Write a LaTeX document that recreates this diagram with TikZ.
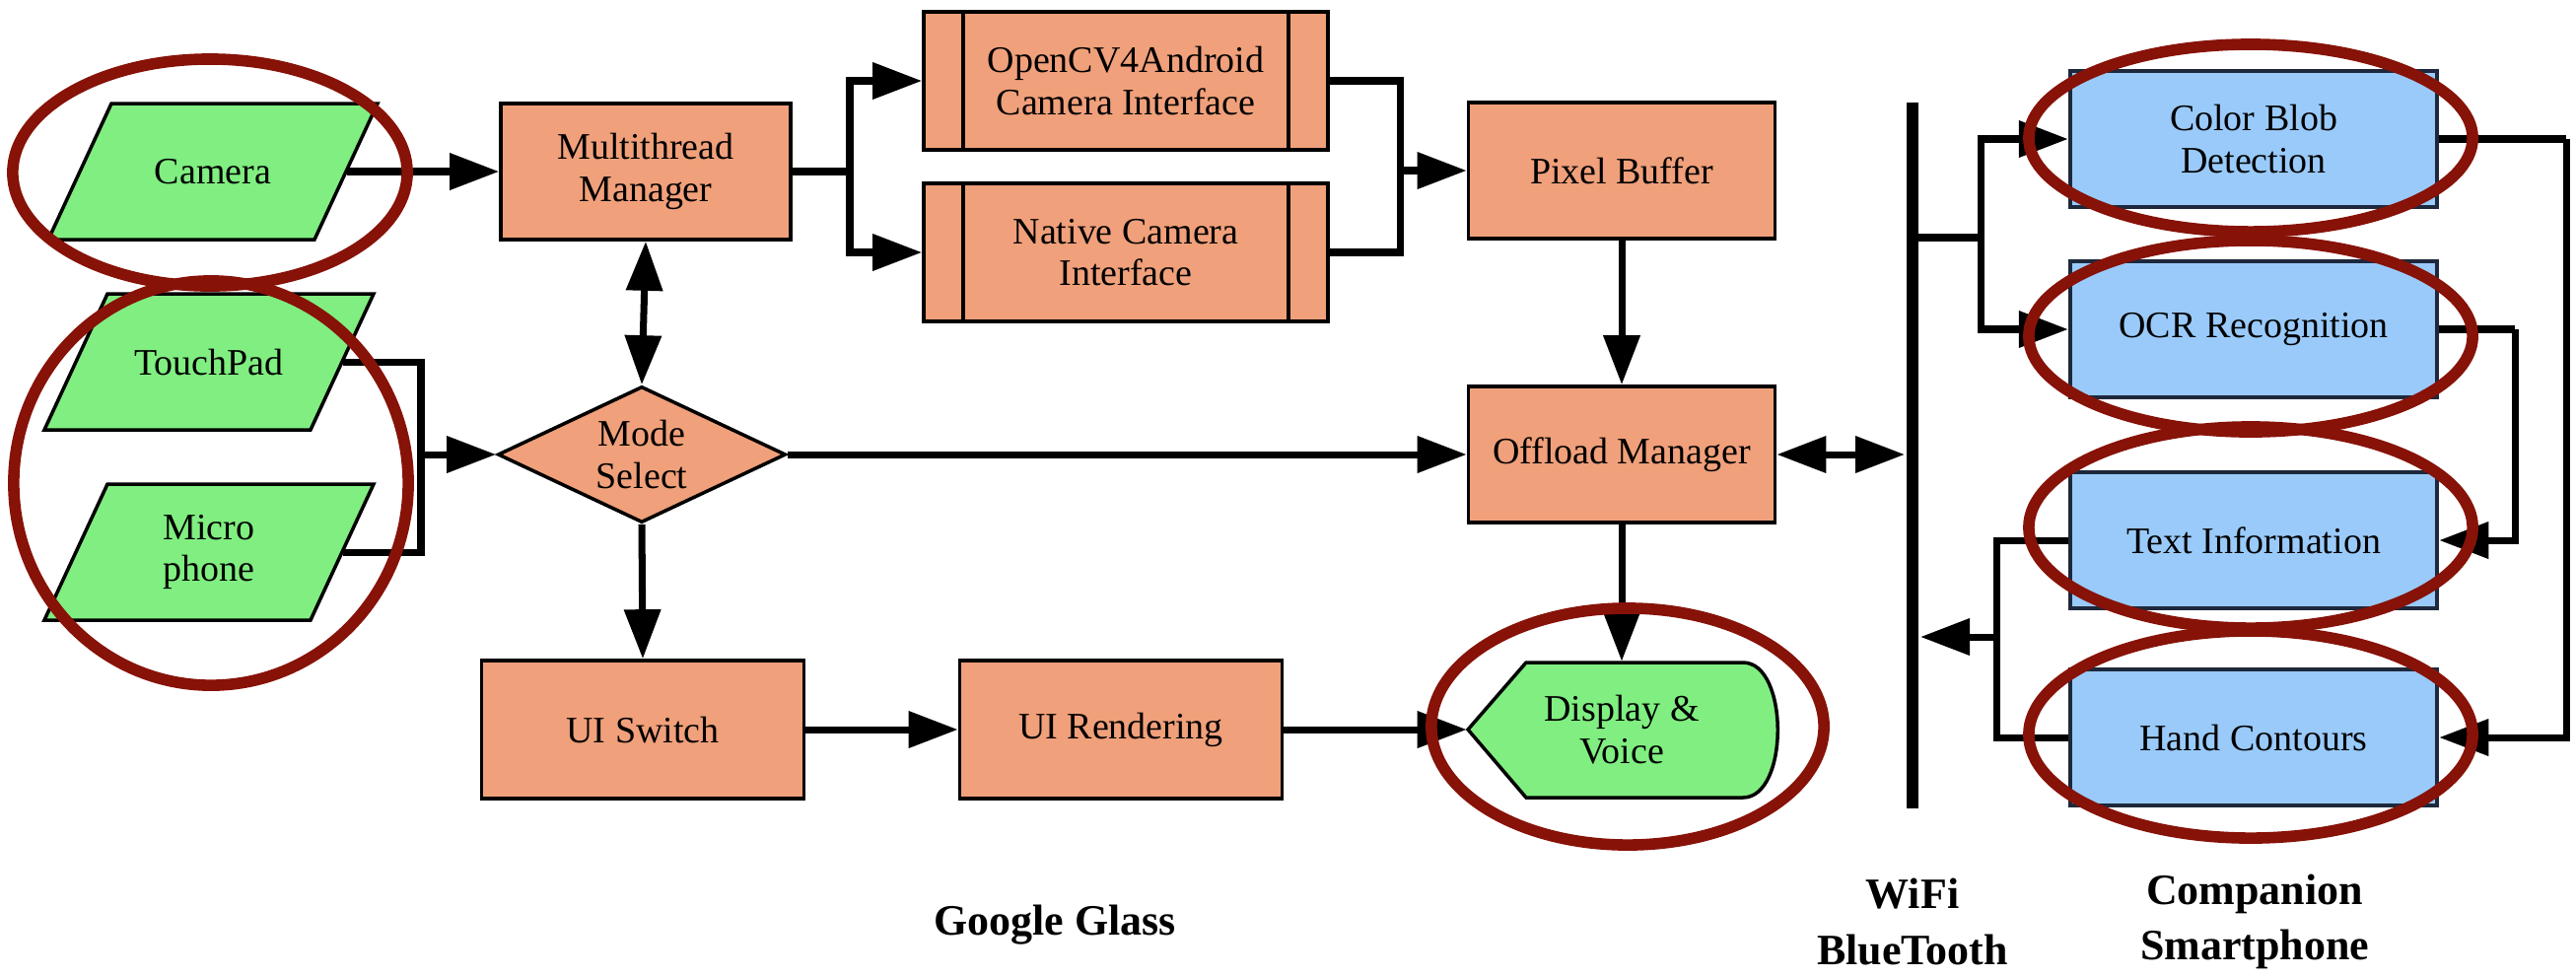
\documentclass[tikz,border=0pt]{standalone}
\usepackage{fontspec}
\setmainfont{Liberation Serif}
\usetikzlibrary{shapes.geometric}
\usetikzlibrary{arrows.meta}

\definecolor{boxorange}{RGB}{240,160,122}
\definecolor{boxgreen}{RGB}{128,238,128}
\definecolor{boxblue}{RGB}{153,202,250}
\definecolor{boxedge}{RGB}{30,40,60}
\definecolor{markred}{RGB}{135,18,8}

\begin{document}
\begin{tikzpicture}[x=0.01cm,y=-0.01cm,>={Triangle[length=5mm,width=3.6mm]}]

\tikzstyle{every node}=[font=\fontsize{10.8}{12}\selectfont]
\tikzstyle{proc}=[rectangle,draw,line width=1pt,fill=boxorange,align=center,minimum width=2.94cm,minimum height=1.38cm]
\tikzstyle{subproc}=[proc,minimum width=4.1cm,minimum height=1.4cm,
  path picture={\draw[line width=1pt] ([xshift=4mm]path picture bounding box.north west) -- ([xshift=4mm]path picture bounding box.south west);
                \draw[line width=1pt] ([xshift=-4mm]path picture bounding box.north east) -- ([xshift=-4mm]path picture bounding box.south east);}]
\tikzstyle{io}=[rectangle,align=center,minimum width=2.7cm,minimum height=1.38cm]
\tikzstyle{iobox}=[draw,line width=1pt,fill=boxgreen]
\tikzstyle{choice}=[diamond,draw,line width=1pt,fill=boxorange,align=center,aspect=2.1,inner sep=0pt,minimum width=2.92cm,minimum height=1.38cm]
\tikzstyle{phone}=[rectangle,draw=boxedge,line width=1.2pt,fill=boxblue,align=center,minimum width=3.72cm,minimum height=1.38cm]
\tikzstyle{conn}=[line width=2pt]
\tikzstyle{markring}=[draw=markred,line width=3.3pt]
\tikzstyle{caption}=[font=\fontsize{12.5}{16}\selectfont\bfseries,align=center]

\useasboundingbox (0,0) rectangle (2613,990);

% glass side
\foreach \cx/\cy in {216/174, 212/367, 212/560}
  \draw[iobox] (\cx-167,\cy+69) -- (\cx+103,\cy+69) -- (\cx+167,\cy-69) -- (\cx-103,\cy-69) -- cycle;

\node[io]      (cam)    at ( 216,174) {Camera} ;
\node[io]      (touch)  at ( 212,367) {TouchPad} ;
\node[io]      (mic)    at ( 212,560) {Micro\\phone} ;
\node[proc]    (mtm)    at ( 655,174) {Multithread\\Manager} ;
\node[choice]  (mode)   at ( 651,461) {Mode\\Select} ;
\node[subproc] (ocv)    at (1142, 82) {OpenCV4Android\\Camera Interface} ;
\node[subproc] (nci)    at (1142,256) {Native Camera\\Interface} ;
\node[proc,minimum width=3.11cm] (pix)  at (1645,173) {Pixel Buffer} ;
\node[proc,minimum width=3.11cm] (offl) at (1645,461) {Offload Manager} ;
\node[proc,minimum width=3.27cm,minimum height=1.4cm] (uisw)   at ( 652,740) {UI Switch} ;
\node[proc,minimum width=3.27cm,minimum height=1.4cm] (uirend) at (1137,740) {UI Rendering} ;

\draw[iobox] (1489,740) -- (1548,672) -- (1768,672)
      .. controls (1815,672) and (1815,809) .. (1768,809) -- (1548,809) -- cycle;
\node[minimum width=3.13cm,minimum height=1.37cm,align=center] (disp) at (1645,740) {Display \&\\Voice} ;

% smartphone side
\node[phone] (cbd)  at (2286,141) {Color Blob\\Detection} ;
\node[phone] (ocr)  at (2286,334) {OCR Recognition} ;
\node[phone] (txt)  at (2286,548) {Text Information} ;
\node[phone] (hand) at (2286,748) {Hand Contours} ;

\coordinate (bartop) at (1940,104) ;
\coordinate (barbot) at (1940,820) ;
\draw[line width=3.5pt] (bartop) -- (barbot) ;

\node[caption] (glass) at (1070,938) {Google Glass} ;
\node[caption] (wifi)  at (1940,935) {WiFi\\BlueTooth} ;
\node[caption] (comp)  at (2287,935) {Companion\\Smartphone} ;

% junctions
\coordinate (jt) at ( 427,461) ;
\coordinate (js) at ( 862,174) ;
\coordinate (jm) at (1420,173) ;
\coordinate (bo) at (1932,461) ;
\coordinate (bb) at (1946,241) ;
\coordinate (jr) at (2009,241) ;
\coordinate (jc) at (2603,141) ;
\coordinate (jo) at (2551,334) ;
\coordinate (jl) at (2025,646) ;
\coordinate (bl) at (1948,646) ;

\draw[conn,->] (cam.east) -- (mtm.west) ;
\draw[conn] (touch.east) -| (jt) |- (mic.east) ;
\draw[conn,->] (jt) -- (mode.west) ;
\draw[conn,<->] (mtm.south) -- (mode.north) ;
\draw[conn,->] (mode.south) -- (uisw.north) ;
\draw[conn,->] (mode.east) -- (offl.west) ;
\draw[conn] (mtm.east) -- (js) ;
\draw[conn,->] (js) |- (ocv.west) ;
\draw[conn,->] (js) |- (nci.west) ;
\draw[conn] (ocv.east) -| (jm) |- (nci.east) ;
\draw[conn,->] (jm) -- (pix.west) ;
\draw[conn,->] (pix.south) -- (offl.north) ;
\draw[conn,->] (offl.south) -- (disp.north) ;
\draw[conn,->] (uisw.east) -- (uirend.west) ;
\draw[conn,->] (uirend.east) -- (disp.west) ;
\draw[conn,<->] (offl.east) -- (bo) ;
\draw[conn] (bb) -- (jr) ;
\draw[conn,->] (jr) |- (cbd.west) ;
\draw[conn,->] (jr) |- (ocr.west) ;
\draw[conn] (cbd.east) -- (jc) ;
\draw[conn,->] (jc) |- (hand.east) ;
\draw[conn] (ocr.east) -- (jo) ;
\draw[conn,->] (jo) |- (txt.east) ;
\draw[conn] (txt.west) -| (jl) |- (hand.west) ;
\draw[conn,->] (jl) -- (bl) ;

% red rings
\draw[markring] ( 213,175) ellipse [x radius=2cm,y radius=1.15cm] ;
\draw[markring] ( 214,490) ellipse [x radius=2cm,y radius=2.05cm] ;
\draw[markring] (1651,737) ellipse [x radius=1.99cm,y radius=1.2cm] ;
\draw[markring] (2283,140) ellipse [x radius=2.25cm,y radius=0.95cm] ;
\draw[markring] (2283,341) ellipse [x radius=2.25cm,y radius=0.97cm] ;
\draw[markring] (2283,535) ellipse [x radius=2.25cm,y radius=1.02cm] ;
\draw[markring] (2283,745) ellipse [x radius=2.25cm,y radius=1.05cm] ;

\end{tikzpicture}
\end{document}
